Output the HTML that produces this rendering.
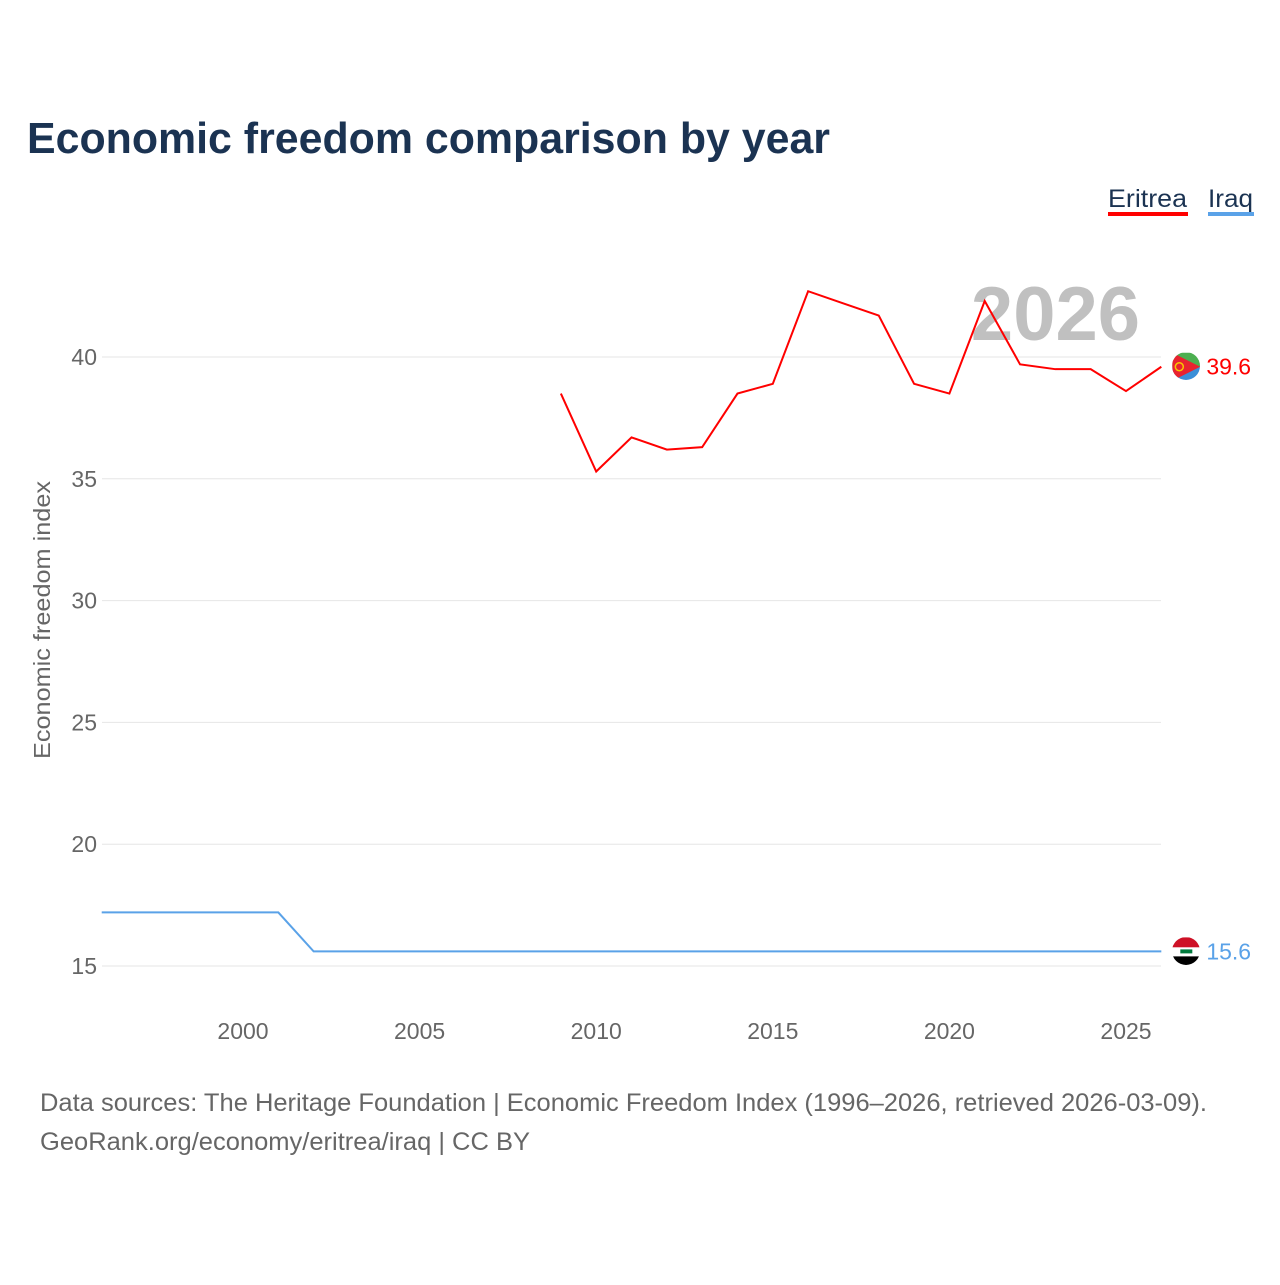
<!DOCTYPE html>
<html><head><meta charset="utf-8"><style>
body{margin:0;background:#fff;width:1280px;height:1280px;overflow:hidden;font-family:"Liberation Sans",sans-serif}
</style></head><body>
<svg width="1280" height="1280" xmlns="http://www.w3.org/2000/svg">
<text x="27" y="153" font-size="44" font-weight="bold" fill="#1b3352" textLength="803" lengthAdjust="spacingAndGlyphs">Economic freedom comparison by year</text>
<g>
<text x="1108" y="207" font-size="25" fill="#1b3352" textLength="79" lengthAdjust="spacingAndGlyphs">Eritrea</text>
<rect x="1108" y="212" width="80" height="4" fill="#ff0000"/>
<text x="1208" y="207" font-size="25" fill="#1b3352" textLength="45" lengthAdjust="spacingAndGlyphs">Iraq</text>
<rect x="1208" y="212" width="46" height="4" fill="#5aa2e8"/>
</g>
<text x="1140" y="340" font-size="76" font-weight="bold" fill="#c0c0c0" text-anchor="end">2026</text>
<g id="grid"></g><g id="xt"></g><g id="lines"></g>
<text transform="translate(50,620) rotate(-90)" font-size="23" fill="#666" text-anchor="middle" textLength="278" lengthAdjust="spacingAndGlyphs">Economic freedom index</text>
<text x="40" y="1111" font-size="25" fill="#666" textLength="1167" lengthAdjust="spacingAndGlyphs">Data sources: The Heritage Foundation | Economic Freedom Index (1996–2026, retrieved 2026-03-09).</text>
<text x="40" y="1150" font-size="25" fill="#666" textLength="490" lengthAdjust="spacingAndGlyphs">GeoRank.org/economy/eritrea/iraq | CC BY</text>
<defs>
<clipPath id="cE"><circle cx="1186" cy="366" r="14"/></clipPath>
<clipPath id="cI"><circle cx="1186" cy="951" r="14"/></clipPath>
</defs>
</svg>
<script>
const yTicks=[15,20,25,30,35,40];
const xTicks=[2000,2005,2010,2015,2020,2025];
const eritreaYears=[2009,2010,2011,2012,2013,2014,2015,2016,2017,2018,2019,2020,2021,2022,2023,2024,2025,2026];
const eritreaValues=[38.5,35.3,36.7,36.2,36.3,38.5,38.9,42.7,42.2,41.7,38.9,38.5,42.3,39.7,39.5,39.5,38.6,39.6];
const iraqYears=[1996,1997,1998,1999,2000,2001,2002,2003,2004,2005,2006,2007,2008,2009,2010,2011,2012,2013,2014,2015,2016,2017,2018,2019,2020,2021,2022,2023,2024,2025,2026];
const iraqValues=[17.2,17.2,17.2,17.2,17.2,17.2,15.6,15.6,15.6,15.6,15.6,15.6,15.6,15.6,15.6,15.6,15.6,15.6,15.6,15.6,15.6,15.6,15.6,15.6,15.6,15.6,15.6,15.6,15.6,15.6,15.6];
const NS="http://www.w3.org/2000/svg";
const X=v=>243+(v-2000)*35.32;
const Y=v=>966-(v-15)*24.36;
function mk(t,a,p){const e=document.createElementNS(NS,t);for(const k in a)e.setAttribute(k,a[k]);p.appendChild(e);return e;}
const g=document.getElementById('grid');
yTicks.forEach(v=>{
const l=mk('line',{x1:102,x2:1161,y1:Y(v),y2:Y(v),stroke:'#e6e6e6','stroke-width':1},g);


const t=mk('text',{x:97,y:Y(v)+8,'font-size':23,fill:'#666','text-anchor':'end'},g);t.textContent=v;


});
const xg=document.getElementById('xt');
xTicks.forEach(v=>{
const t=mk('text',{x:X(v),y:1039,'font-size':23,fill:'#666','text-anchor':'middle'},xg);t.textContent=v;


});
const lg=document.getElementById('lines');
function series(ys,vs,col,name,clip,stripes){
const p=mk('polyline',{points:ys.map((y,i)=>X(y)+','+Y(vs[i])).join(' '),fill:'none',stroke:col,'stroke-width':2},lg);


const last=vs[vs.length-1],lx=X(ys[ys.length-1]),cy=Y(last);
const f=mk('g',{'clip-path':'url(#'+clip+')'},lg);


stripes(f,lx+25,cy);
const t=mk('text',{x:lx+45,y:cy+8,'font-size':23,fill:col},lg);t.textContent=last.toFixed(1);


}
series(eritreaYears,eritreaValues,'#ff0000','eritrea','cE',(f,cx,cy)=>{
mk('rect',{x:cx-14,y:cy-14,width:28,height:14,fill:'#4caf50'},f);
mk('rect',{x:cx-14,y:cy,width:28,height:14,fill:'#3a8fd8'},f);
mk('polygon',{points:(cx-14)+','+(cy-14)+' '+(cx+14)+','+cy+' '+(cx-14)+','+(cy+14),fill:'#e8232f'},f);
mk('circle',{cx:cx-7,cy:cy,r:4,fill:'none',stroke:'#f6c700','stroke-width':1.5},f);
});
series(iraqYears,iraqValues,'#5aa2e8','iraq','cI',(f,cx,cy)=>{
mk('rect',{x:cx-14,y:cy-14,width:28,height:10,fill:'#ce1126'},f);
mk('rect',{x:cx-14,y:cy-4,width:28,height:9,fill:'#fff'},f);
mk('rect',{x:cx-14,y:cy+5,width:28,height:9,fill:'#000'},f);
mk('rect',{x:cx-6,y:cy-2,width:12,height:4,fill:'#007a3d'},f);
});
</script>
</body></html>
